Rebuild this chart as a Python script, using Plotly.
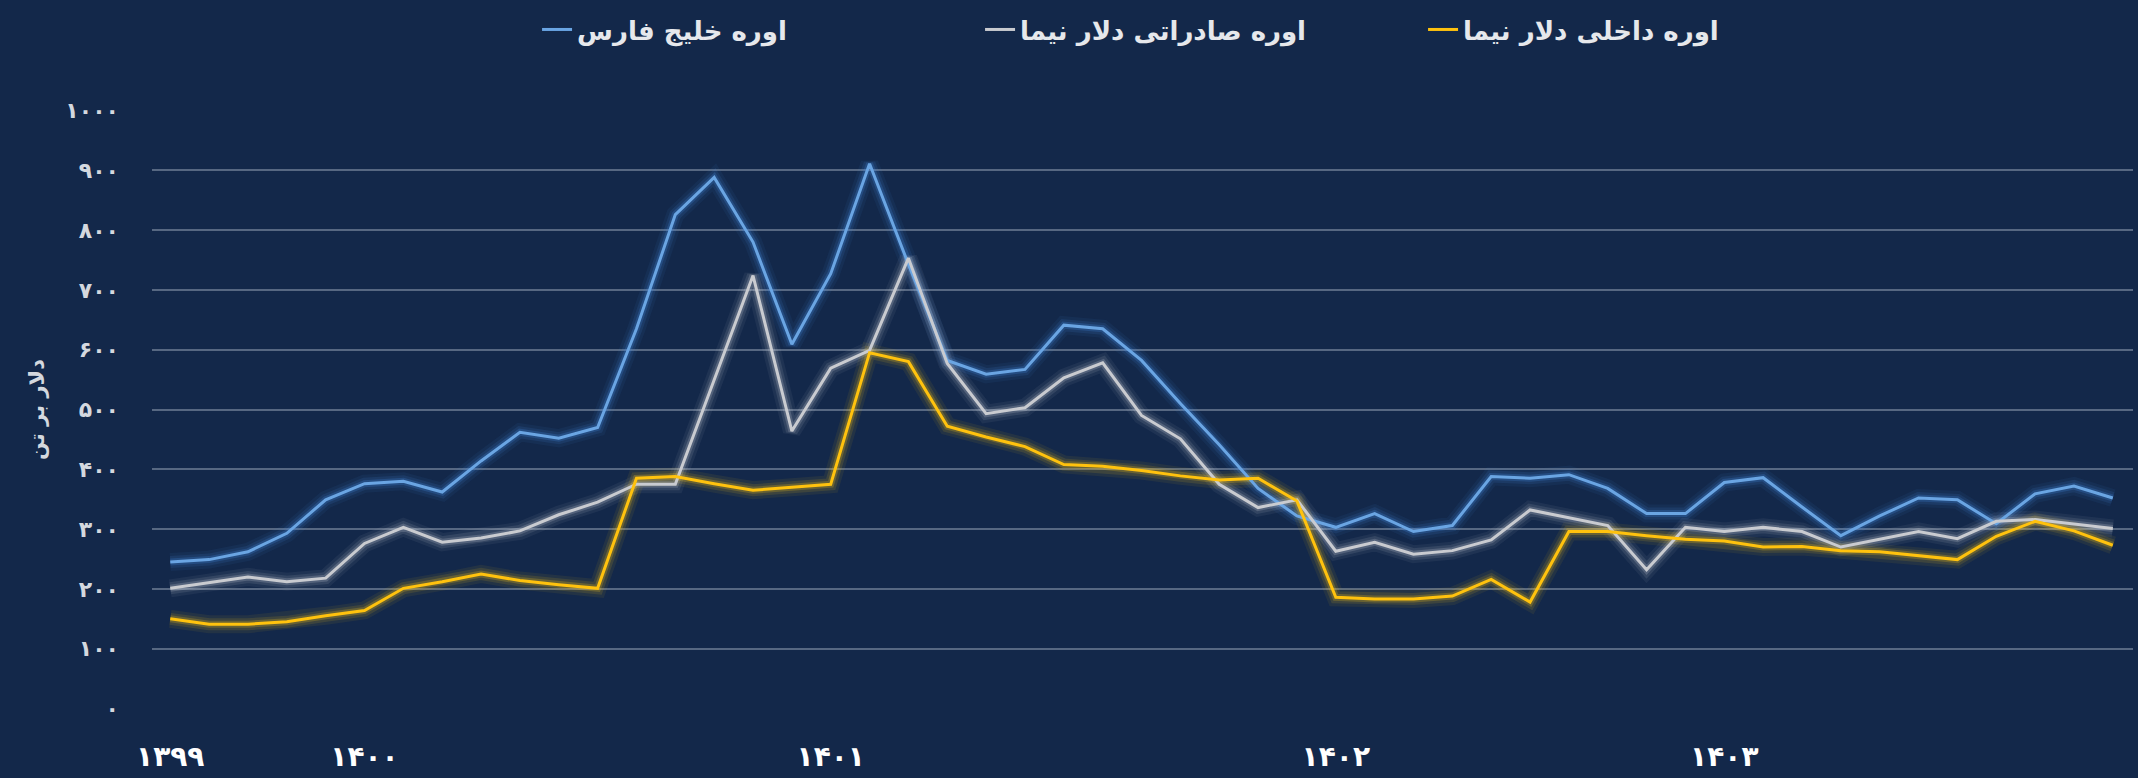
import plotly.graph_objects as go

# ---- data ----
persian_gulf = [245, 249, 262, 293, 349, 376, 380, 362, 414, 462, 452,
                470, 635, 826, 888, 780, 609, 727, 911, 743, 582,
                559, 567, 641, 635, 582, 510, 441, 368, 322, 303,
                326, 296, 306, 388, 385, 391, 368, 326, 326, 378,
                386, 337, 289, 322, 352, 349, 309, 359, 372, 352]
export_nima = [201, 211, 220, 212, 218, 276, 303, 278, 285, 297, 324,
               345, 375, 375, 549, 724, 464, 569, 599, 753, 577,
               493, 503, 553, 578, 490, 451, 375, 336, 349, 263,
               278, 258, 264, 282, 332, 319, 306, 232, 303, 296,
               303, 296, 270, 283, 296, 284, 313, 316, 309, 301]
domestic_nima = [150, 141, 141, 145, 155, 164, 201, 212, 225, 214, 207,
                 201, 385, 388, 376, 365, 370, 375, 595, 580, 472,
                 454, 438, 408, 405, 398, 389, 382, 385, 347, 186,
                 183, 183, 188, 216, 178, 296, 296, 289, 283, 280,
                 270, 271, 264, 262, 255, 249, 288, 313, 297, 273]

series_names = ["اوره خلیج فارس", "اوره صادراتی دلار نیما", "اوره داخلی دلار نیما"]
series_colors = ["#6aa5e3", "#c9cbd0", "#ffc20e"]
glow_colors = ["rgba(70,140,230,{a})", "rgba(200,205,215,{a})", "rgba(255,200,20,{a})"]

year_positions = [0, 5, 17, 30, 40]
year_labels = ["۱۳۹۹", "۱۴۰۰", "۱۴۰۱", "۱۴۰۲", "۱۴۰۳"]

y_tick_values = [0, 100, 200, 300, 400, 500, 600, 700, 800, 900, 1000]
y_tick_labels = ["۰", "۱۰۰", "۲۰۰", "۳۰۰", "۴۰۰", "۵۰۰", "۶۰۰", "۷۰۰", "۸۰۰", "۹۰۰", "۱۰۰۰"]

y_title = "دلار بر تن"

x = list(range(len(persian_gulf)))
all_series = [persian_gulf, export_nima, domestic_nima]

fig = go.Figure()

# glow layers
for vals, gc in zip(all_series, glow_colors):
    for w, a in [(18, 0.07), (12, 0.12), (7, 0.22)]:
        fig.add_trace(go.Scatter(x=x, y=vals, mode="lines",
                                 line=dict(color=gc.format(a=a), width=w),
                                 showlegend=False, hoverinfo="skip"))

# main lines
for vals, name, col in zip(all_series, series_names, series_colors):
    fig.add_trace(go.Scatter(x=x, y=vals, mode="lines", name=name,
                             line=dict(color=col, width=3)))

bg = "#13284a"
fig.update_layout(
    width=2138, height=778,
    paper_bgcolor=bg, plot_bgcolor=bg,
    margin=dict(l=152, r=5, t=110, b=67),
    font=dict(family="DejaVu Sans", color="#d9dde4"),
    legend=dict(orientation="h", xref="container", yref="container",
                x=0.562, y=0.962, xanchor="center", yanchor="middle",
                font=dict(size=26, color="#e6e8ec", family="DejaVu Sans", weight="bold"),
                bgcolor="rgba(0,0,0,0)", entrywidth=398, entrywidthmode="pixels"),
    showlegend=True,
)
fig.update_xaxes(range=[-0.47, 50.52], tickvals=year_positions, ticktext=year_labels,
                 showgrid=False, zeroline=False, showline=False, ticks="",
                 tickfont=dict(size=28, color="#ffffff", family="DejaVu Sans", weight="bold"),
                 ticklabelstandoff=28)
fig.update_yaxes(range=[-0.8, 1000.8], tickvals=y_tick_values, ticktext=y_tick_labels,
                 showgrid=True, gridcolor="rgba(170,182,200,0.45)", gridwidth=1.5,
                 zeroline=False, showline=False, ticks="",
                 tickfont=dict(size=22, color="#d4d8df", family="DejaVu Sans", weight="bold"),
                 ticklabelstandoff=32,
                 title=dict(text=y_title, font=dict(size=21, color="#d4d8df", weight="bold"),
                            standoff=14))

fig.write_html("out.html", config={"displayModeBar": False})

with open("out.html", "r", encoding="utf-8") as f:
    html = f.read()
html = html.replace("<head>", "<head><style>html,body{margin:0;padding:0;background:%s;overflow:hidden;}</style>" % bg, 1)
with open("out.html", "w", encoding="utf-8") as f:
    f.write(html)
